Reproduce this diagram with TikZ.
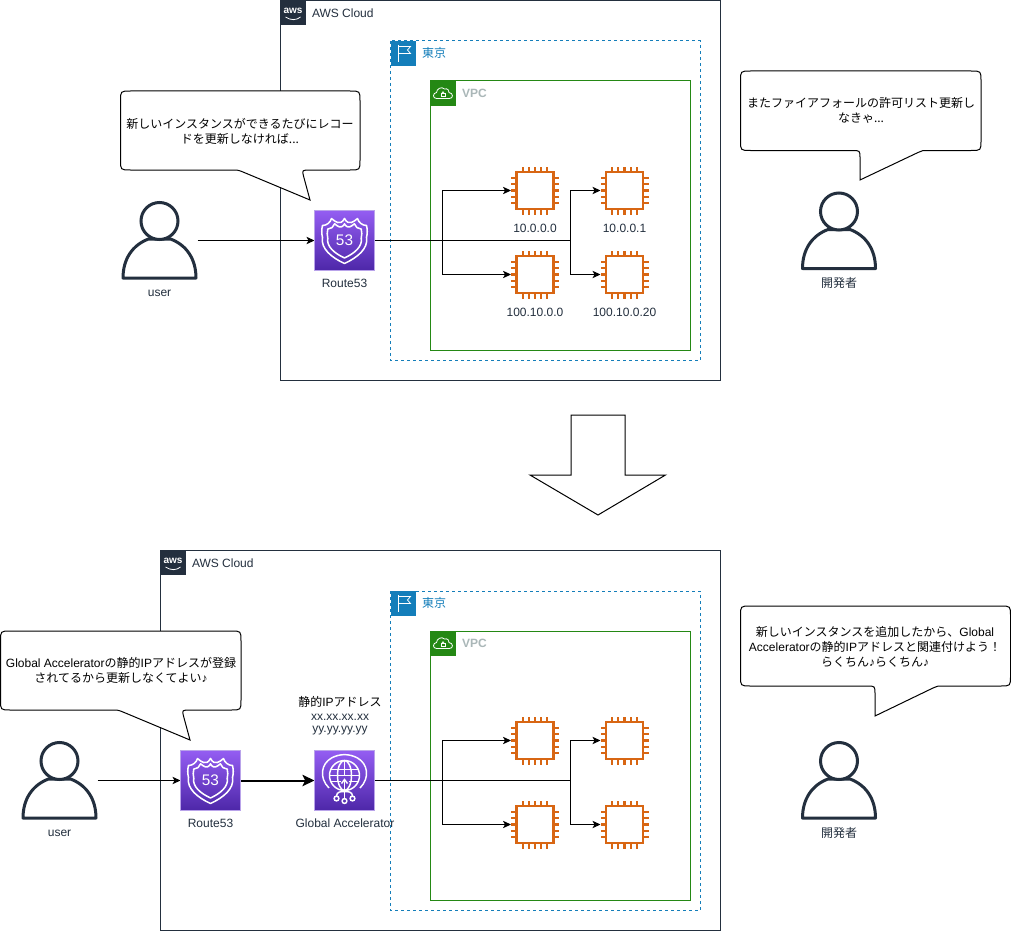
\documentclass[tikz,border=0pt]{standalone}
\usepackage{fontspec}
\setmainfont{Liberation Sans}
\newfontfamily\cjk{Noto Sans CJK JP}
\usetikzlibrary{arrows.meta}
\definecolor{awsdark}{HTML}{232F3E}
\definecolor{regionblue}{HTML}{147EBA}
\definecolor{vpcgreen}{HTML}{248814}
\definecolor{vpcgray}{HTML}{AAB7B8}
\definecolor{chiporange}{HTML}{D86613}
\definecolor{purpletop}{HTML}{945DF2}
\definecolor{purplebot}{HTML}{4D27A8}
\definecolor{purpleedge}{HTML}{B9A3EA}
\tikzset{
  txt/.style={inner sep=0pt,outer sep=0pt,font=\fontsize{9}{11.25}\selectfont,align=center},
  lbl/.style={txt,text=awsdark},
  cloudframe/.style={draw=awsdark,line width=.75pt,fill=white},
  regionframe/.style={draw=regionblue,line width=.75pt,dash pattern=on 2.25pt off 2.25pt},
  vpcframe/.style={draw=vpcgreen,line width=.75pt},
  conn/.style={line width=.75pt,-{Stealth[length=6pt,width=5.5pt,inset=1.5pt]}},
  plainconn/.style={line width=.75pt},
  thickconn/.style={line width=1.5pt,-{Stealth[length=9pt,width=8.5pt,inset=2pt]}},
  callout/.style={draw=black,line width=.75pt,fill=white},
  chipbox/.style={rectangle,minimum size=36pt,inner sep=0pt,outer sep=0pt},
  svcbox/.style={rectangle,minimum size=45pt,inner sep=0pt,outer sep=0pt},
  userbox/.style={rectangle,minimum width=57pt,minimum height=59pt,inner sep=0pt,outer sep=0pt},
  pics/chipicon/.style={code={
    \draw[chiporange,line width=1.8pt,fill=white] (-18.5,-18.5) rectangle (18.5,18.5);
    \foreach \k in {-12.4,-6.2,0,6.2,12.4}{
      \draw[chiporange,line width=1.6pt] (\k,-18.5) -- (\k,-24);
      \draw[chiporange,line width=1.6pt] (\k,18.5) -- (\k,24);
      \draw[chiporange,line width=1.6pt] (-18.5,\k) -- (-24,\k);
      \draw[chiporange,line width=1.6pt] (18.5,\k) -- (24,\k);
    }
  }},
  pics/usericon/.style={code={
    \draw[awsdark,line width=2.25pt,fill=white,line join=round]
      (-36.5,37) .. controls (-36.5,18) and (-27,4) .. (-11,-2)
      -- (11,-2) .. controls (27,4) and (36.5,18) .. (36.5,37) -- cycle;
    \draw[awsdark,line width=2.25pt,fill=white] (0,-20) circle (18.5);
  }},
  pics/svcbg/.style={code={
    \shade[top color=purpletop,bottom color=purplebot] (-30,-30) rectangle (30,30);
    \draw[purpleedge,line width=.75pt] (-30,-30) rectangle (30,30);
  }},
  pics/routeicon/.style={code={
    \pic {svcbg};
    \foreach \s in {1,.76}{
      \draw[white,line width=1.15pt,line join=round,scale=\s]
        (0,-22) .. controls (-2,-18) and (-5,-17) .. (-7,-18)
        .. controls (-9,-19) and (-11,-20) .. (-13,-22)
        .. controls (-14,-18) and (-18,-15) .. (-22,-15)
        .. controls (-23,-11) and (-23,-7) .. (-22,-3)
        .. controls (-24,8) and (-13,17) .. (0,23)
        .. controls (13,17) and (24,8) .. (22,-3)
        .. controls (23,-7) and (23,-11) .. (22,-15)
        .. controls (18,-15) and (14,-18) .. (13,-22)
        .. controls (11,-20) and (9,-19) .. (7,-18)
        .. controls (5,-17) and (2,-18) .. (0,-22) -- cycle;
    }
    \node[white,inner sep=0pt,font=\fontsize{11.5}{11.5}\selectfont] at (0,0) {53};
  }},
  pics/gaicon/.style={code={
    \pic {svcbg};
    \begin{scope}[white,line width=1.1pt]
      \draw (0,-5) circle (15);
      \draw (0,-5) ellipse (7 and 15);
      \draw (-13.5,-11) -- (13.5,-11);
      \draw (-15,-5) -- (15,-5);
      \draw (-13.5,1) -- (-4,1);
      \draw (4,1) -- (13.5,1);
      \draw (0,-20) -- (0,-5);
      \draw (-15.5,7.5) .. controls (-26,-3) and (-23,-17) .. (-13,-22.5)
            .. controls (-5,-27) and (5,-27) .. (13,-22.5)
            .. controls (23,-17) and (26,-3) .. (15.5,7.5);
      \draw (0,18) -- (0,-1);
      \draw (-8,15.5) .. controls (-8,11) and (-3,11) .. (0,11);
      \draw (8,15.5) .. controls (8,11) and (3,11) .. (0,11);
      \draw (-3,3) -- (0,-1) -- (3,3);
      \draw (-8,18) circle (2.4);
      \draw (0,20.5) circle (2.4);
      \draw (8,18) circle (2.4);
    \end{scope}
  }},
  pics/awslogo/.style={code={
    \fill[awsdark] (0,0) rectangle (25,25);
    \node[white,inner sep=0pt,font=\bfseries\fontsize{7.5}{7.5}\selectfont] at (12.5,10.5) {aws};
    \draw[white,line width=.6pt] (5,17) .. controls (10,20.5) and (16,20.5) .. (20,17);
  }},
  pics/flagicon/.style={code={
    \fill[regionblue] (0,0) rectangle (25,25);
    \draw[white,line width=.6pt] (8,4) -- (8,21);
    \draw[white,line width=.6pt] (8,5.5) -- (20,5.5) -- (17,9) -- (20,12.5) -- (8,12.5);
  }},
  pics/vpcicon/.style={code={
    \fill[vpcgreen] (0,0) rectangle (25,25);
    \draw[white,line width=.6pt] (6,17.5)
      .. controls (2,17.5) and (2,12) .. (6,11.5)
      .. controls (6,8) and (11,5) .. (14,8)
      .. controls (17,7) and (19,9.5) .. (18.5,11.5)
      .. controls (23,12) and (23,17.5) .. (19,17.5) -- cycle;
    \draw[white,line width=.5pt] (10.5,12.5) rectangle (14.5,15.5);
    \draw[white,line width=.5pt] (11.2,12.5) .. controls (11.2,10) and (13.8,10) .. (13.8,12.5);
  }}
}
\newcommand{\chipat}[3]{\node[chipbox] (#1) at (#2,#3) {}; \pic at (#1) {chipicon};}
\newcommand{\callbox}[5]{\draw[callout] ({#1+10},#2) -- ({#3-10},#2)
  .. controls (#3,#2) .. (#3,{#2+10}) -- (#3,{#4-10})
  .. controls (#3,#4) .. ({#3-10},#4) #5 -- ({#1+10},#4)
  .. controls (#1,#4) .. (#1,{#4-10}) -- (#1,{#2+10})
  .. controls (#1,#2) .. ({#1+10},#2) -- cycle;}
\newcommand{\note}{{\rmfamily ♪}}
\begin{document}
\begin{tikzpicture}[x=.75pt,y=-.75pt]
\useasboundingbox (0,0) rectangle (1011,931);
\fill[white] (0,0) rectangle (1011,931);

% ---------- upper frames
\draw[cloudframe] (280.5,.5) rectangle (720,380.5);
\pic at (280.5,0) {awslogo};
\node[lbl,anchor=west] (cloudA) at (312,13.5) {AWS Cloud};
\draw[regionframe] (390.5,41) rectangle (700,360.5);
\pic at (390.5,41) {flagicon};
\node[txt,text=regionblue,anchor=west] (regionA) at (422,53) {\cjk 東京};
\draw[vpcframe] (430.5,81) rectangle (690,350.5);
\pic at (430.5,81) {vpcicon};
\node[txt,text=vpcgray,anchor=west,font=\bfseries\fontsize{9}{11}\selectfont] (vpcA) at (462,93) {VPC};

% ---------- upper nodes
\node[userbox] (userA) at (159.5,240.5) {};
\pic at (159.5,241) {usericon};
\node[lbl] (userAl) at (159.5,293) {user};
\node[svcbox] (routeA) at (344.5,240.5) {};
\chipat{chipA}{535}{190.5}
\chipat{chipB}{624.5}{190.5}
\chipat{chipC}{535}{274.5}
\chipat{chipD}{624.5}{274.5}
\node[lbl] at (535,228) (chipAl) {10.0.0.0};
\node[lbl] at (624.5,228) (chipBl) {10.0.0.1};
\node[lbl] at (535,312) (chipCl) {100.10.0.0};
\node[lbl] at (624.5,312) (chipDl) {100.10.0.20};
\node[lbl] (routeAl) at (344.5,283) {Route53};
\node[userbox] (devA) at (839,231.5) {};
\pic at (devA) {usericon};
\node[lbl] (devAl) at (839,283) {\cjk 開発者};

% ---------- upper connectors
\coordinate (jA) at (442,240.5);
\coordinate (kA) at (570,240.5);
\draw[conn] (userA.east) -- (routeA.west);
\draw[plainconn] (routeA.east) -- (kA);
\draw[conn] (jA) |- (chipA.west);
\draw[conn] (jA) |- (chipC.west);
\draw[conn] (kA) |- (chipB.west);
\draw[conn] (kA) |- (chipD.west);
\pic at (routeA) {routeicon};

% ---------- upper callouts
\callbox{120.5}{91}{360}{170}{-- (311,170) .. controls (302,170) .. (303.5,176) -- (310,200) -- (243,172) .. controls (238,170) .. (230,170)}
\node[txt] (sayA) at (240,131) {\cjk 新しいインスタンスができるたびにレコー\\\cjk ドを更新しなければ...};
\callbox{740.5}{71}{981}{150.5}{-- (930,150.5) .. controls (922,150.5) .. (918,152.5) -- (860,180) -- (860,158) .. controls (860,150.5) .. (852,150.5)}
\node[txt] (sayB) at (861,110.5) {\cjk またファイアフォールの許可リスト更新し\\\cjk なきゃ...};

% ---------- big arrow
\draw[line width=.75pt,fill=white] (571,415) -- (625,415) -- (625,475) -- (665.5,475) -- (598,515) -- (530,475) -- (571,475) -- cycle;

% ---------- lower frames
\draw[cloudframe] (160.5,550.5) rectangle (720,930.5);
\pic at (160.5,550) {awslogo};
\node[lbl,anchor=west] (cloudB) at (192,563.5) {AWS Cloud};
\draw[regionframe] (390.5,591) rectangle (700,910.5);
\pic at (390.5,591) {flagicon};
\node[txt,text=regionblue,anchor=west] (regionB) at (422,603) {\cjk 東京};
\draw[vpcframe] (430.5,631) rectangle (690,900.5);
\pic at (430.5,631) {vpcicon};
\node[txt,text=vpcgray,anchor=west,font=\bfseries\fontsize{9}{11}\selectfont] (vpcB) at (462,643) {VPC};

% ---------- lower nodes
\node[userbox] (userB) at (59.5,780.5) {};
\pic at (59.5,781) {usericon};
\node[lbl] (userBl) at (59.5,833) {user};
\node[svcbox] (routeB) at (210.5,780.5) {};
\node[svcbox] (gaB) at (344.5,780.5) {};
\chipat{chipE}{535}{740.5}
\chipat{chipF}{624.5}{740.5}
\chipat{chipG}{535}{824.5}
\chipat{chipH}{624.5}{824.5}
\node[lbl] (routeBl) at (210.5,823) {Route53};
\node[lbl] (gaBl) at (345,823) {Global Accelerator};
\node[txt] (ipT) at (340,702) {\cjk 静的\rmfamily IP\cjk アドレス};
\node[lbl] (ipX) at (340,717) {xx.xx.xx.xx};
\node[lbl] (ipY) at (340,731) {yy.yy.yy.yy};
\node[userbox] (devB) at (839,781) {};
\pic at (devB) {usericon};
\node[lbl] (devBl) at (839,832.5) {\cjk 開発者};

% ---------- lower connectors
\coordinate (jB) at (442,780.5);
\coordinate (kB) at (570,780.5);
\draw[conn] (userB.east) -- (routeB.west);
\draw[thickconn] (routeB.east) -- (gaB.west);
\draw[plainconn] (gaB.east) -- (kB);
\draw[conn] (jB) |- (chipE.west);
\draw[conn] (jB) |- (chipG.west);
\draw[conn] (kB) |- (chipF.west);
\draw[conn] (kB) |- (chipH.west);
\pic at (routeB) {routeicon};
\pic at (gaB) {gaicon};

% ---------- lower callouts
\callbox{.5}{631}{241}{710}{-- (191,710) .. controls (182,710) .. (183.5,716) -- (190,740) -- (123,712) .. controls (118,710) .. (110,710)}
\node[txt] (sayC) at (121,670.5) {Global Accelerator\cjk の静的\rmfamily IP\cjk アドレスが登録\\\cjk されてるから更新しなくてよい\note};
\callbox{740.5}{606}{1010.5}{686}{-- (945,686) .. controls (937,686) .. (933,688) -- (875,716) -- (875,694) .. controls (875,686) .. (867,686)}
\node[txt] (sayD) at (875,647) {\cjk 新しいインスタンスを追加したから、\rmfamily Global\\Accelerator\cjk の静的\rmfamily IP\cjk アドレスと関連付けよう！\\\cjk らくちん\note らくちん\note};
\end{tikzpicture}
\end{document}
